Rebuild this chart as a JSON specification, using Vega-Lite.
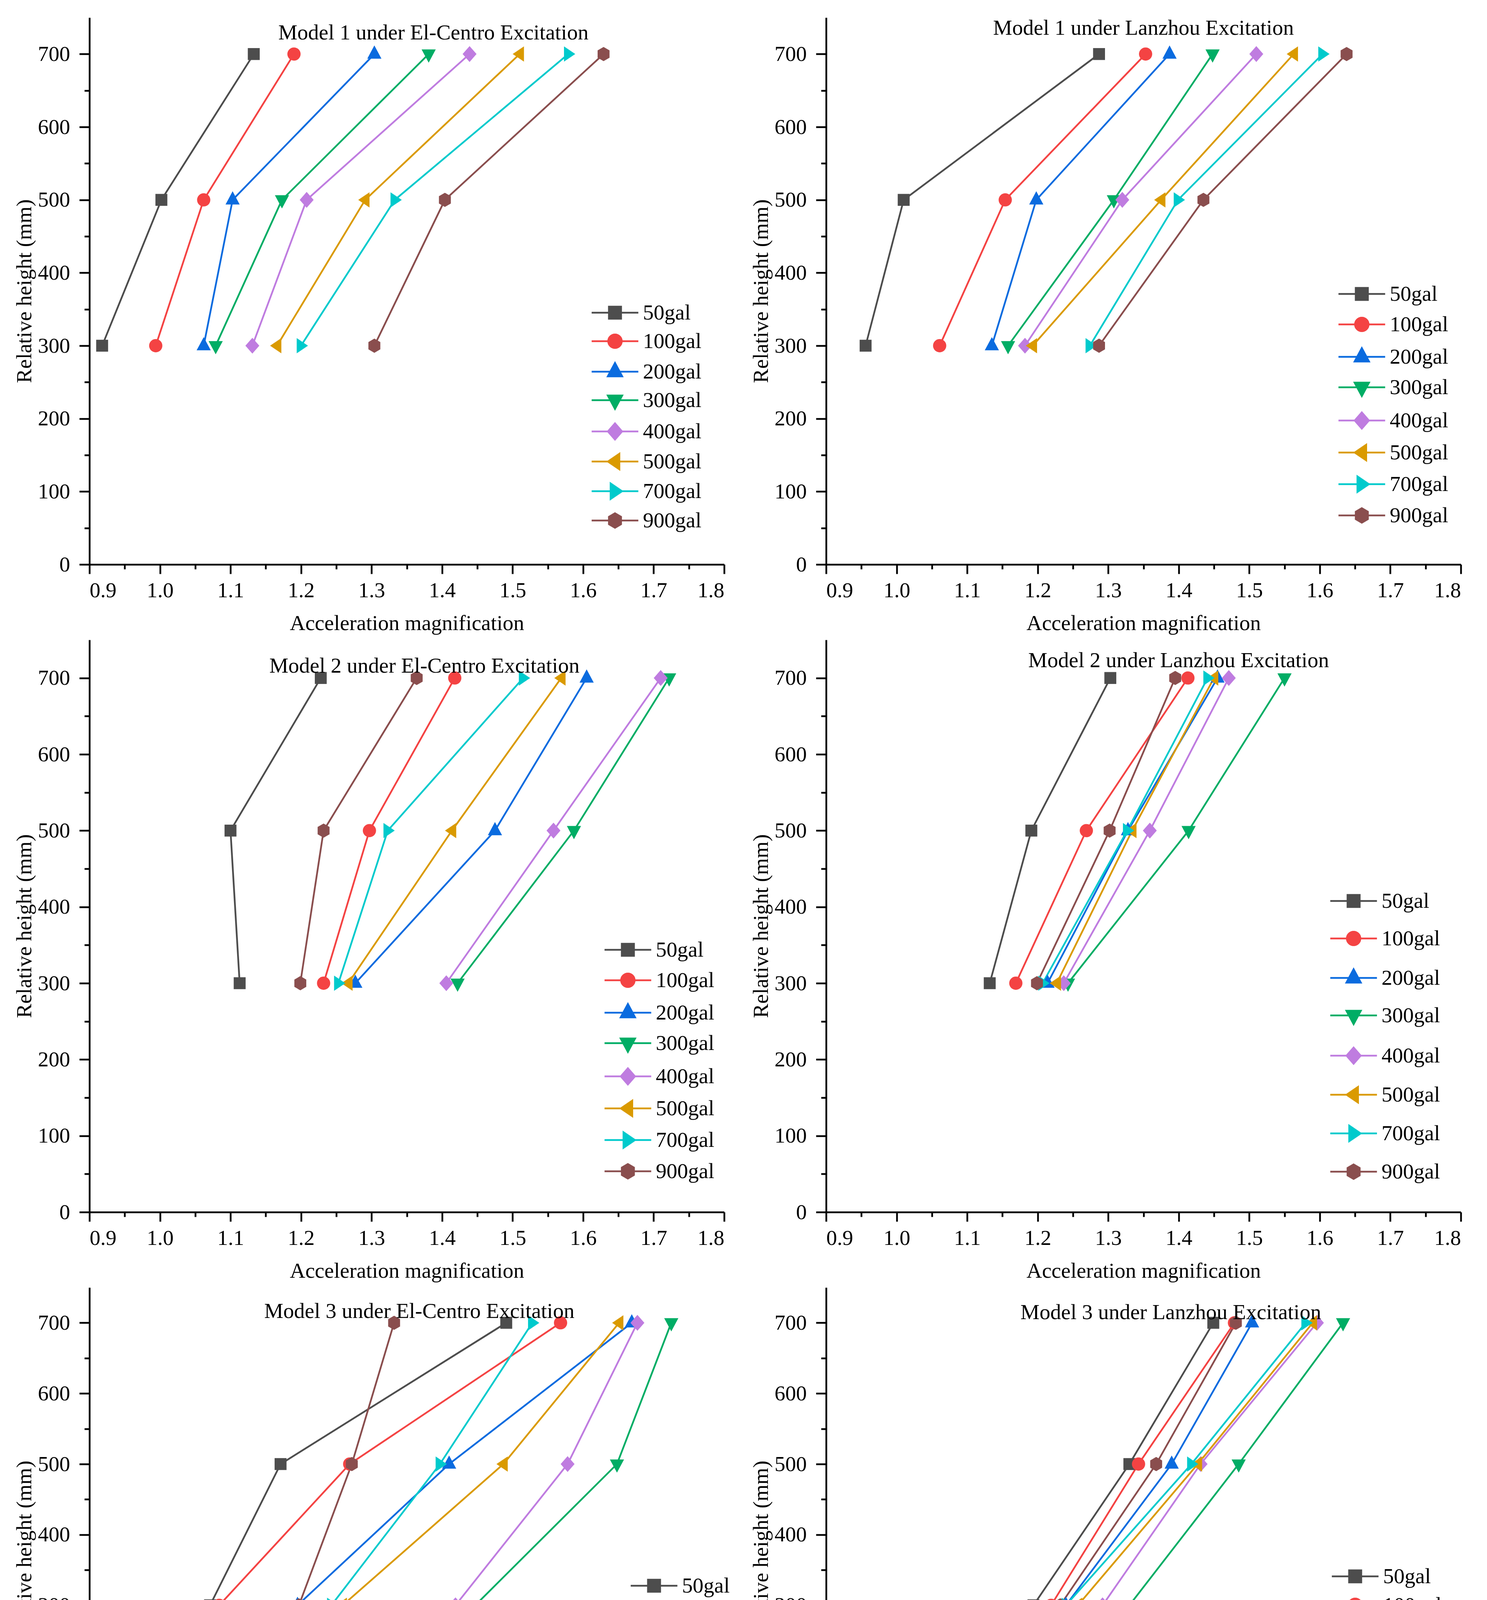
{
  "$schema": "https://vega.github.io/schema/vega-lite/v6.json",
  "padding": {"left": 35, "top": 45, "right": 5, "bottom": 5},
  "background": "white",
  "title": {"text": "(b) Distribution of HAM inside the slope", "orient": "bottom", "anchor": "middle", "frame": "bounds", "font": "Liberation Serif", "fontSize": 78, "fontWeight": "normal", "offset": 45, "color": "#000"},
  "data": {"values": [
    {"panel": "p1", "load": "50gal", "height": 300, "amp": 0.918}, {"panel": "p1", "load": "50gal", "height": 500, "amp": 1.002}, {"panel": "p1", "load": "50gal", "height": 700, "amp": 1.133},
    {"panel": "p1", "load": "100gal", "height": 300, "amp": 0.994}, {"panel": "p1", "load": "100gal", "height": 500, "amp": 1.062}, {"panel": "p1", "load": "100gal", "height": 700, "amp": 1.190},
    {"panel": "p1", "load": "200gal", "height": 300, "amp": 1.062}, {"panel": "p1", "load": "200gal", "height": 500, "amp": 1.103}, {"panel": "p1", "load": "200gal", "height": 700, "amp": 1.304},
    {"panel": "p1", "load": "300gal", "height": 300, "amp": 1.079}, {"panel": "p1", "load": "300gal", "height": 500, "amp": 1.173}, {"panel": "p1", "load": "300gal", "height": 700, "amp": 1.381},
    {"panel": "p1", "load": "400gal", "height": 300, "amp": 1.131}, {"panel": "p1", "load": "400gal", "height": 500, "amp": 1.208}, {"panel": "p1", "load": "400gal", "height": 700, "amp": 1.439},
    {"panel": "p1", "load": "500gal", "height": 300, "amp": 1.166}, {"panel": "p1", "load": "500gal", "height": 500, "amp": 1.291}, {"panel": "p1", "load": "500gal", "height": 700, "amp": 1.510},
    {"panel": "p1", "load": "700gal", "height": 300, "amp": 1.200}, {"panel": "p1", "load": "700gal", "height": 500, "amp": 1.333}, {"panel": "p1", "load": "700gal", "height": 700, "amp": 1.579},
    {"panel": "p1", "load": "900gal", "height": 300, "amp": 1.304}, {"panel": "p1", "load": "900gal", "height": 500, "amp": 1.404}, {"panel": "p1", "load": "900gal", "height": 700, "amp": 1.629},

    {"panel": "p2", "load": "50gal", "height": 300, "amp": 0.956}, {"panel": "p2", "load": "50gal", "height": 500, "amp": 1.010}, {"panel": "p2", "load": "50gal", "height": 700, "amp": 1.287},
    {"panel": "p2", "load": "100gal", "height": 300, "amp": 1.061}, {"panel": "p2", "load": "100gal", "height": 500, "amp": 1.154}, {"panel": "p2", "load": "100gal", "height": 700, "amp": 1.353},
    {"panel": "p2", "load": "200gal", "height": 300, "amp": 1.135}, {"panel": "p2", "load": "200gal", "height": 500, "amp": 1.198}, {"panel": "p2", "load": "200gal", "height": 700, "amp": 1.387},
    {"panel": "p2", "load": "300gal", "height": 300, "amp": 1.158}, {"panel": "p2", "load": "300gal", "height": 500, "amp": 1.308}, {"panel": "p2", "load": "300gal", "height": 700, "amp": 1.448},
    {"panel": "p2", "load": "400gal", "height": 300, "amp": 1.182}, {"panel": "p2", "load": "400gal", "height": 500, "amp": 1.320}, {"panel": "p2", "load": "400gal", "height": 700, "amp": 1.510},
    {"panel": "p2", "load": "500gal", "height": 300, "amp": 1.193}, {"panel": "p2", "load": "500gal", "height": 500, "amp": 1.375}, {"panel": "p2", "load": "500gal", "height": 700, "amp": 1.563},
    {"panel": "p2", "load": "700gal", "height": 300, "amp": 1.274}, {"panel": "p2", "load": "700gal", "height": 500, "amp": 1.399}, {"panel": "p2", "load": "700gal", "height": 700, "amp": 1.604},
    {"panel": "p2", "load": "900gal", "height": 300, "amp": 1.287}, {"panel": "p2", "load": "900gal", "height": 500, "amp": 1.435}, {"panel": "p2", "load": "900gal", "height": 700, "amp": 1.638},

    {"panel": "p3", "load": "50gal", "height": 300, "amp": 1.113}, {"panel": "p3", "load": "50gal", "height": 500, "amp": 1.100}, {"panel": "p3", "load": "50gal", "height": 700, "amp": 1.228},
    {"panel": "p3", "load": "100gal", "height": 300, "amp": 1.232}, {"panel": "p3", "load": "100gal", "height": 500, "amp": 1.297}, {"panel": "p3", "load": "100gal", "height": 700, "amp": 1.418},
    {"panel": "p3", "load": "200gal", "height": 300, "amp": 1.277}, {"panel": "p3", "load": "200gal", "height": 500, "amp": 1.475}, {"panel": "p3", "load": "200gal", "height": 700, "amp": 1.605},
    {"panel": "p3", "load": "300gal", "height": 300, "amp": 1.422}, {"panel": "p3", "load": "300gal", "height": 500, "amp": 1.587}, {"panel": "p3", "load": "300gal", "height": 700, "amp": 1.722},
    {"panel": "p3", "load": "400gal", "height": 300, "amp": 1.406}, {"panel": "p3", "load": "400gal", "height": 500, "amp": 1.558}, {"panel": "p3", "load": "400gal", "height": 700, "amp": 1.710},
    {"panel": "p3", "load": "500gal", "height": 300, "amp": 1.267}, {"panel": "p3", "load": "500gal", "height": 500, "amp": 1.414}, {"panel": "p3", "load": "500gal", "height": 700, "amp": 1.569},
    {"panel": "p3", "load": "700gal", "height": 300, "amp": 1.253}, {"panel": "p3", "load": "700gal", "height": 500, "amp": 1.323}, {"panel": "p3", "load": "700gal", "height": 700, "amp": 1.515},
    {"panel": "p3", "load": "900gal", "height": 300, "amp": 1.199}, {"panel": "p3", "load": "900gal", "height": 500, "amp": 1.232}, {"panel": "p3", "load": "900gal", "height": 700, "amp": 1.364},

    {"panel": "p4", "load": "50gal", "height": 300, "amp": 1.132}, {"panel": "p4", "load": "50gal", "height": 500, "amp": 1.191}, {"panel": "p4", "load": "50gal", "height": 700, "amp": 1.303},
    {"panel": "p4", "load": "100gal", "height": 300, "amp": 1.169}, {"panel": "p4", "load": "100gal", "height": 500, "amp": 1.269}, {"panel": "p4", "load": "100gal", "height": 700, "amp": 1.413},
    {"panel": "p4", "load": "200gal", "height": 300, "amp": 1.214}, {"panel": "p4", "load": "200gal", "height": 500, "amp": 1.328}, {"panel": "p4", "load": "200gal", "height": 700, "amp": 1.455},
    {"panel": "p4", "load": "300gal", "height": 300, "amp": 1.243}, {"panel": "p4", "load": "300gal", "height": 500, "amp": 1.414}, {"panel": "p4", "load": "300gal", "height": 700, "amp": 1.550},
    {"panel": "p4", "load": "400gal", "height": 300, "amp": 1.237}, {"panel": "p4", "load": "400gal", "height": 500, "amp": 1.359}, {"panel": "p4", "load": "400gal", "height": 700, "amp": 1.471},
    {"panel": "p4", "load": "500gal", "height": 300, "amp": 1.227}, {"panel": "p4", "load": "500gal", "height": 500, "amp": 1.334}, {"panel": "p4", "load": "500gal", "height": 700, "amp": 1.450},
    {"panel": "p4", "load": "700gal", "height": 300, "amp": 1.207}, {"panel": "p4", "load": "700gal", "height": 500, "amp": 1.327}, {"panel": "p4", "load": "700gal", "height": 700, "amp": 1.441},
    {"panel": "p4", "load": "900gal", "height": 300, "amp": 1.199}, {"panel": "p4", "load": "900gal", "height": 500, "amp": 1.302}, {"panel": "p4", "load": "900gal", "height": 700, "amp": 1.395},

    {"panel": "p5", "load": "50gal", "height": 300, "amp": 1.071}, {"panel": "p5", "load": "50gal", "height": 500, "amp": 1.171}, {"panel": "p5", "load": "50gal", "height": 700, "amp": 1.491},
    {"panel": "p5", "load": "100gal", "height": 300, "amp": 1.084}, {"panel": "p5", "load": "100gal", "height": 500, "amp": 1.269}, {"panel": "p5", "load": "100gal", "height": 700, "amp": 1.568},
    {"panel": "p5", "load": "200gal", "height": 300, "amp": 1.195}, {"panel": "p5", "load": "200gal", "height": 500, "amp": 1.410}, {"panel": "p5", "load": "200gal", "height": 700, "amp": 1.669},
    {"panel": "p5", "load": "300gal", "height": 300, "amp": 1.447}, {"panel": "p5", "load": "300gal", "height": 500, "amp": 1.648}, {"panel": "p5", "load": "300gal", "height": 700, "amp": 1.725},
    {"panel": "p5", "load": "400gal", "height": 300, "amp": 1.419}, {"panel": "p5", "load": "400gal", "height": 500, "amp": 1.578}, {"panel": "p5", "load": "400gal", "height": 700, "amp": 1.677},
    {"panel": "p5", "load": "500gal", "height": 300, "amp": 1.259}, {"panel": "p5", "load": "500gal", "height": 500, "amp": 1.487}, {"panel": "p5", "load": "500gal", "height": 700, "amp": 1.651},
    {"panel": "p5", "load": "700gal", "height": 300, "amp": 1.243}, {"panel": "p5", "load": "700gal", "height": 500, "amp": 1.397}, {"panel": "p5", "load": "700gal", "height": 700, "amp": 1.528},
    {"panel": "p5", "load": "900gal", "height": 300, "amp": 1.197}, {"panel": "p5", "load": "900gal", "height": 500, "amp": 1.272}, {"panel": "p5", "load": "900gal", "height": 700, "amp": 1.332},

    {"panel": "p6", "load": "50gal", "height": 300, "amp": 1.194}, {"panel": "p6", "load": "50gal", "height": 500, "amp": 1.330}, {"panel": "p6", "load": "50gal", "height": 700, "amp": 1.449},
    {"panel": "p6", "load": "100gal", "height": 300, "amp": 1.219}, {"panel": "p6", "load": "100gal", "height": 500, "amp": 1.343}, {"panel": "p6", "load": "100gal", "height": 700, "amp": 1.479},
    {"panel": "p6", "load": "200gal", "height": 300, "amp": 1.240}, {"panel": "p6", "load": "200gal", "height": 500, "amp": 1.390}, {"panel": "p6", "load": "200gal", "height": 700, "amp": 1.504},
    {"panel": "p6", "load": "300gal", "height": 300, "amp": 1.330}, {"panel": "p6", "load": "300gal", "height": 500, "amp": 1.485}, {"panel": "p6", "load": "300gal", "height": 700, "amp": 1.633},
    {"panel": "p6", "load": "400gal", "height": 300, "amp": 1.292}, {"panel": "p6", "load": "400gal", "height": 500, "amp": 1.431}, {"panel": "p6", "load": "400gal", "height": 700, "amp": 1.596},
    {"panel": "p6", "load": "500gal", "height": 300, "amp": 1.257}, {"panel": "p6", "load": "500gal", "height": 500, "amp": 1.427}, {"panel": "p6", "load": "500gal", "height": 700, "amp": 1.590},
    {"panel": "p6", "load": "700gal", "height": 300, "amp": 1.240}, {"panel": "p6", "load": "700gal", "height": 500, "amp": 1.418}, {"panel": "p6", "load": "700gal", "height": 700, "amp": 1.580},
    {"panel": "p6", "load": "900gal", "height": 300, "amp": 1.232}, {"panel": "p6", "load": "900gal", "height": 500, "amp": 1.368}, {"panel": "p6", "load": "900gal", "height": 700, "amp": 1.481}
  ]},
  "columns": 2,
  "spacing": {"row": 15, "column": 25},
  "resolve": {"scale": {"color": "independent", "shape": "independent"}, "legend": {"color": "independent", "shape": "independent"}},
  "concat": [
    {
      "width": 1625, "height": 1400,
      "title": {"text": "Model 1 under El-Centro Excitation", "dx": 68, "offset": -68},
      "transform": [{"filter": "datum.panel == 'p1'"}],
      "encoding": {
        "x": {"field": "amp", "type": "quantitative", "scale": {"domain": [0.9, 1.8], "nice": false, "zero": false},
          "axis": {"title": "Acceleration magnification", "values": [0.9, 0.95, 1.0, 1.05, 1.1, 1.15, 1.2, 1.25, 1.3, 1.35, 1.4, 1.45, 1.5, 1.55, 1.6, 1.65, 1.7, 1.75, 1.8],
            "labelExpr": "round(datum.value * 100) % 10 === 0 ? format(datum.value, '.1f') : ''",
            "tickSize": {"condition": {"test": "round(datum.value * 100) % 10 === 0", "value": 24}, "value": 12}}},
        "y": {"field": "height", "type": "quantitative", "scale": {"domain": [0, 750], "nice": false},
          "axis": {"title": "Relative height (mm)", "values": [0, 50, 100, 150, 200, 250, 300, 350, 400, 450, 500, 550, 600, 650, 700],
            "labelExpr": "datum.value % 100 === 0 ? datum.label : ''",
            "tickSize": {"condition": {"test": "datum.value % 100 === 0", "value": 26}, "value": 13}}},
        "color": {"field": "load", "type": "nominal",
          "scale": {"domain": ["50gal", "100gal", "200gal", "300gal", "400gal", "500gal", "700gal", "900gal"], "range": ["#4d4d4d", "#f44343", "#0a6bdf", "#00ad65", "#bf7ce0", "#da9a00", "#00cacc", "#8a4e4e"]},
          "legend": {"orient": "none", "legendX": 1318, "legendY": 728, "rowPadding": 17, "symbolStrokeWidth": 4.5}},
        "order": {"field": "height", "type": "quantitative"}
      },
      "layer": [
        {"mark": {"type": "line", "strokeWidth": 4.5}},
        {"mark": {"type": "point", "filled": true, "size": 1150, "opacity": 1, "strokeWidth": 4.5},
          "encoding": {"shape": {"condition": [
            {"test": "datum.load === '50gal'", "value": "M-0.9,-0.9H0.9V0.9H-0.9Z"},
            {"test": "datum.load === '100gal'", "value": "M1,0A1,1,0,1,1,-1,0A1,1,0,1,1,1,0Z"},
            {"test": "datum.load === '200gal'", "value": "M0,-1.3L-1.07,0.7L1.07,0.7Z"},
            {"test": "datum.load === '300gal'", "value": "M0,1.3L-1.07,-0.7L1.07,-0.7Z"},
            {"test": "datum.load === '400gal'", "value": "M-1.05,0L0,-1.2L1.05,0L0,1.2Z"},
            {"test": "datum.load === '500gal'", "value": "M-1.05,0L0.65,-1.15L0.65,1.15Z"},
            {"test": "datum.load === '700gal'", "value": "M1.05,0L-0.65,-1.15L-0.65,1.15Z"}],
            "value": "M0,-1.07L0.9,-0.55L0.9,0.55L0,1.07L-0.9,0.55L-0.9,-0.55Z"}}},
        {"transform": [{"filter": "false"}],
          "mark": {"type": "point", "filled": true, "size": 1150, "opacity": 1, "strokeWidth": 4.5},
          "encoding": {"shape": {"field": "load", "type": "nominal", "scale": {"domain": ["50gal", "100gal", "200gal", "300gal", "400gal", "500gal", "700gal", "900gal"],
            "range": ["M-3.45,0H3.45M-0.9,-0.9H0.9V0.9H-0.9Z", "M-3.45,0H3.45M1,0A1,1,0,1,1,-1,0A1,1,0,1,1,1,0Z", "M-3.45,0H3.45M0,-1.3L-1.07,0.7L1.07,0.7Z", "M-3.45,0H3.45M0,1.3L-1.07,-0.7L1.07,-0.7Z", "M-3.45,0H3.45M-1.05,0L0,-1.2L1.05,0L0,1.2Z", "M-3.45,0H3.45M-1.05,0L0.65,-1.15L0.65,1.15Z", "M-3.45,0H3.45M1.05,0L-0.65,-1.15L-0.65,1.15Z", "M-3.45,0H3.45M0,-1.07L0.9,-0.55L0.9,0.55L0,1.07L-0.9,0.55L-0.9,-0.55Z"]}}}}
      ]
    },
    {
      "width": 1625, "height": 1400,
      "title": {"text": "Model 1 under Lanzhou Excitation", "dx": 0, "offset": -56},
      "transform": [{"filter": "datum.panel == 'p2'"}],
      "encoding": {
        "x": {"field": "amp", "type": "quantitative", "scale": {"domain": [0.9, 1.8], "nice": false, "zero": false},
          "axis": {"title": "Acceleration magnification", "values": [0.9, 0.95, 1.0, 1.05, 1.1, 1.15, 1.2, 1.25, 1.3, 1.35, 1.4, 1.45, 1.5, 1.55, 1.6, 1.65, 1.7, 1.75, 1.8],
            "labelExpr": "round(datum.value * 100) % 10 === 0 ? format(datum.value, '.1f') : ''",
            "tickSize": {"condition": {"test": "round(datum.value * 100) % 10 === 0", "value": 24}, "value": 12}}},
        "y": {"field": "height", "type": "quantitative", "scale": {"domain": [0, 750], "nice": false},
          "axis": {"title": "Relative height (mm)", "values": [0, 50, 100, 150, 200, 250, 300, 350, 400, 450, 500, 550, 600, 650, 700],
            "labelExpr": "datum.value % 100 === 0 ? datum.label : ''",
            "tickSize": {"condition": {"test": "datum.value % 100 === 0", "value": 26}, "value": 13}}},
        "color": {"field": "load", "type": "nominal",
          "scale": {"domain": ["50gal", "100gal", "200gal", "300gal", "400gal", "500gal", "700gal", "900gal"], "range": ["#4d4d4d", "#f44343", "#0a6bdf", "#00ad65", "#bf7ce0", "#da9a00", "#00cacc", "#8a4e4e"]},
          "legend": {"orient": "none", "legendX": 1344, "legendY": 680, "rowPadding": 22, "symbolStrokeWidth": 4.5}},
        "order": {"field": "height", "type": "quantitative"}
      },
      "layer": [
        {"mark": {"type": "line", "strokeWidth": 4.5}},
        {"mark": {"type": "point", "filled": true, "size": 1150, "opacity": 1, "strokeWidth": 4.5},
          "encoding": {"shape": {"condition": [
            {"test": "datum.load === '50gal'", "value": "M-0.9,-0.9H0.9V0.9H-0.9Z"},
            {"test": "datum.load === '100gal'", "value": "M1,0A1,1,0,1,1,-1,0A1,1,0,1,1,1,0Z"},
            {"test": "datum.load === '200gal'", "value": "M0,-1.3L-1.07,0.7L1.07,0.7Z"},
            {"test": "datum.load === '300gal'", "value": "M0,1.3L-1.07,-0.7L1.07,-0.7Z"},
            {"test": "datum.load === '400gal'", "value": "M-1.05,0L0,-1.2L1.05,0L0,1.2Z"},
            {"test": "datum.load === '500gal'", "value": "M-1.05,0L0.65,-1.15L0.65,1.15Z"},
            {"test": "datum.load === '700gal'", "value": "M1.05,0L-0.65,-1.15L-0.65,1.15Z"}],
            "value": "M0,-1.07L0.9,-0.55L0.9,0.55L0,1.07L-0.9,0.55L-0.9,-0.55Z"}}},
        {"transform": [{"filter": "false"}],
          "mark": {"type": "point", "filled": true, "size": 1150, "opacity": 1, "strokeWidth": 4.5},
          "encoding": {"shape": {"field": "load", "type": "nominal", "scale": {"domain": ["50gal", "100gal", "200gal", "300gal", "400gal", "500gal", "700gal", "900gal"],
            "range": ["M-3.45,0H3.45M-0.9,-0.9H0.9V0.9H-0.9Z", "M-3.45,0H3.45M1,0A1,1,0,1,1,-1,0A1,1,0,1,1,1,0Z", "M-3.45,0H3.45M0,-1.3L-1.07,0.7L1.07,0.7Z", "M-3.45,0H3.45M0,1.3L-1.07,-0.7L1.07,-0.7Z", "M-3.45,0H3.45M-1.05,0L0,-1.2L1.05,0L0,1.2Z", "M-3.45,0H3.45M-1.05,0L0.65,-1.15L0.65,1.15Z", "M-3.45,0H3.45M1.05,0L-0.65,-1.15L-0.65,1.15Z", "M-3.45,0H3.45M0,-1.07L0.9,-0.55L0.9,0.55L0,1.07L-0.9,0.55L-0.9,-0.55Z"]}}}}
      ]
    },
    {
      "width": 1625, "height": 1465,
      "title": {"text": "Model 2 under El-Centro Excitation", "dx": 45, "offset": -96},
      "transform": [{"filter": "datum.panel == 'p3'"}],
      "encoding": {
        "x": {"field": "amp", "type": "quantitative", "scale": {"domain": [0.9, 1.8], "nice": false, "zero": false},
          "axis": {"title": "Acceleration magnification", "values": [0.9, 0.95, 1.0, 1.05, 1.1, 1.15, 1.2, 1.25, 1.3, 1.35, 1.4, 1.45, 1.5, 1.55, 1.6, 1.65, 1.7, 1.75, 1.8],
            "labelExpr": "round(datum.value * 100) % 10 === 0 ? format(datum.value, '.1f') : ''",
            "tickSize": {"condition": {"test": "round(datum.value * 100) % 10 === 0", "value": 24}, "value": 12}}},
        "y": {"field": "height", "type": "quantitative", "scale": {"domain": [0, 750], "nice": false},
          "axis": {"title": "Relative height (mm)", "values": [0, 50, 100, 150, 200, 250, 300, 350, 400, 450, 500, 550, 600, 650, 700],
            "labelExpr": "datum.value % 100 === 0 ? datum.label : ''",
            "tickSize": {"condition": {"test": "datum.value % 100 === 0", "value": 26}, "value": 13}}},
        "color": {"field": "load", "type": "nominal",
          "scale": {"domain": ["50gal", "100gal", "200gal", "300gal", "400gal", "500gal", "700gal", "900gal"], "range": ["#4d4d4d", "#f44343", "#0a6bdf", "#00ad65", "#bf7ce0", "#da9a00", "#00cacc", "#8a4e4e"]},
          "legend": {"orient": "none", "legendX": 1351, "legendY": 766, "rowPadding": 22, "symbolStrokeWidth": 4.5}},
        "order": {"field": "height", "type": "quantitative"}
      },
      "layer": [
        {"mark": {"type": "line", "strokeWidth": 4.5}},
        {"mark": {"type": "point", "filled": true, "size": 1150, "opacity": 1, "strokeWidth": 4.5},
          "encoding": {"shape": {"condition": [
            {"test": "datum.load === '50gal'", "value": "M-0.9,-0.9H0.9V0.9H-0.9Z"},
            {"test": "datum.load === '100gal'", "value": "M1,0A1,1,0,1,1,-1,0A1,1,0,1,1,1,0Z"},
            {"test": "datum.load === '200gal'", "value": "M0,-1.3L-1.07,0.7L1.07,0.7Z"},
            {"test": "datum.load === '300gal'", "value": "M0,1.3L-1.07,-0.7L1.07,-0.7Z"},
            {"test": "datum.load === '400gal'", "value": "M-1.05,0L0,-1.2L1.05,0L0,1.2Z"},
            {"test": "datum.load === '500gal'", "value": "M-1.05,0L0.65,-1.15L0.65,1.15Z"},
            {"test": "datum.load === '700gal'", "value": "M1.05,0L-0.65,-1.15L-0.65,1.15Z"}],
            "value": "M0,-1.07L0.9,-0.55L0.9,0.55L0,1.07L-0.9,0.55L-0.9,-0.55Z"}}},
        {"transform": [{"filter": "false"}],
          "mark": {"type": "point", "filled": true, "size": 1150, "opacity": 1, "strokeWidth": 4.5},
          "encoding": {"shape": {"field": "load", "type": "nominal", "scale": {"domain": ["50gal", "100gal", "200gal", "300gal", "400gal", "500gal", "700gal", "900gal"],
            "range": ["M-3.45,0H3.45M-0.9,-0.9H0.9V0.9H-0.9Z", "M-3.45,0H3.45M1,0A1,1,0,1,1,-1,0A1,1,0,1,1,1,0Z", "M-3.45,0H3.45M0,-1.3L-1.07,0.7L1.07,0.7Z", "M-3.45,0H3.45M0,1.3L-1.07,-0.7L1.07,-0.7Z", "M-3.45,0H3.45M-1.05,0L0,-1.2L1.05,0L0,1.2Z", "M-3.45,0H3.45M-1.05,0L0.65,-1.15L0.65,1.15Z", "M-3.45,0H3.45M1.05,0L-0.65,-1.15L-0.65,1.15Z", "M-3.45,0H3.45M0,-1.07L0.9,-0.55L0.9,0.55L0,1.07L-0.9,0.55L-0.9,-0.55Z"]}}}}
      ]
    },
    {
      "width": 1625, "height": 1465,
      "title": {"text": "Model 2 under Lanzhou Excitation", "dx": 90, "offset": -82},
      "transform": [{"filter": "datum.panel == 'p4'"}],
      "encoding": {
        "x": {"field": "amp", "type": "quantitative", "scale": {"domain": [0.9, 1.8], "nice": false, "zero": false},
          "axis": {"title": "Acceleration magnification", "values": [0.9, 0.95, 1.0, 1.05, 1.1, 1.15, 1.2, 1.25, 1.3, 1.35, 1.4, 1.45, 1.5, 1.55, 1.6, 1.65, 1.7, 1.75, 1.8],
            "labelExpr": "round(datum.value * 100) % 10 === 0 ? format(datum.value, '.1f') : ''",
            "tickSize": {"condition": {"test": "round(datum.value * 100) % 10 === 0", "value": 24}, "value": 12}}},
        "y": {"field": "height", "type": "quantitative", "scale": {"domain": [0, 750], "nice": false},
          "axis": {"title": "Relative height (mm)", "values": [0, 50, 100, 150, 200, 250, 300, 350, 400, 450, 500, 550, 600, 650, 700],
            "labelExpr": "datum.value % 100 === 0 ? datum.label : ''",
            "tickSize": {"condition": {"test": "datum.value % 100 === 0", "value": 26}, "value": 13}}},
        "color": {"field": "load", "type": "nominal",
          "scale": {"domain": ["50gal", "100gal", "200gal", "300gal", "400gal", "500gal", "700gal", "900gal"], "range": ["#4d4d4d", "#f44343", "#0a6bdf", "#00ad65", "#bf7ce0", "#da9a00", "#00cacc", "#8a4e4e"]},
          "legend": {"orient": "none", "legendX": 1323, "legendY": 641, "rowPadding": 40, "symbolStrokeWidth": 4.5}},
        "order": {"field": "height", "type": "quantitative"}
      },
      "layer": [
        {"mark": {"type": "line", "strokeWidth": 4.5}},
        {"mark": {"type": "point", "filled": true, "size": 1150, "opacity": 1, "strokeWidth": 4.5},
          "encoding": {"shape": {"condition": [
            {"test": "datum.load === '50gal'", "value": "M-0.9,-0.9H0.9V0.9H-0.9Z"},
            {"test": "datum.load === '100gal'", "value": "M1,0A1,1,0,1,1,-1,0A1,1,0,1,1,1,0Z"},
            {"test": "datum.load === '200gal'", "value": "M0,-1.3L-1.07,0.7L1.07,0.7Z"},
            {"test": "datum.load === '300gal'", "value": "M0,1.3L-1.07,-0.7L1.07,-0.7Z"},
            {"test": "datum.load === '400gal'", "value": "M-1.05,0L0,-1.2L1.05,0L0,1.2Z"},
            {"test": "datum.load === '500gal'", "value": "M-1.05,0L0.65,-1.15L0.65,1.15Z"},
            {"test": "datum.load === '700gal'", "value": "M1.05,0L-0.65,-1.15L-0.65,1.15Z"}],
            "value": "M0,-1.07L0.9,-0.55L0.9,0.55L0,1.07L-0.9,0.55L-0.9,-0.55Z"}}},
        {"transform": [{"filter": "false"}],
          "mark": {"type": "point", "filled": true, "size": 1150, "opacity": 1, "strokeWidth": 4.5},
          "encoding": {"shape": {"field": "load", "type": "nominal", "scale": {"domain": ["50gal", "100gal", "200gal", "300gal", "400gal", "500gal", "700gal", "900gal"],
            "range": ["M-3.45,0H3.45M-0.9,-0.9H0.9V0.9H-0.9Z", "M-3.45,0H3.45M1,0A1,1,0,1,1,-1,0A1,1,0,1,1,1,0Z", "M-3.45,0H3.45M0,-1.3L-1.07,0.7L1.07,0.7Z", "M-3.45,0H3.45M0,1.3L-1.07,-0.7L1.07,-0.7Z", "M-3.45,0H3.45M-1.05,0L0,-1.2L1.05,0L0,1.2Z", "M-3.45,0H3.45M-1.05,0L0.65,-1.15L0.65,1.15Z", "M-3.45,0H3.45M1.05,0L-0.65,-1.15L-0.65,1.15Z", "M-3.45,0H3.45M0,-1.07L0.9,-0.55L0.9,0.55L0,1.07L-0.9,0.55L-0.9,-0.55Z"]}}}}
      ]
    },
    {
      "width": 1625, "height": 1356,
      "title": {"text": "Model 3 under El-Centro Excitation", "dx": 32, "offset": -90},
      "transform": [{"filter": "datum.panel == 'p5'"}],
      "encoding": {
        "x": {"field": "amp", "type": "quantitative", "scale": {"domain": [0.9, 1.8], "nice": false, "zero": false},
          "axis": {"title": "Acceleration magnification", "values": [0.9, 0.95, 1.0, 1.05, 1.1, 1.15, 1.2, 1.25, 1.3, 1.35, 1.4, 1.45, 1.5, 1.55, 1.6, 1.65, 1.7, 1.75, 1.8],
            "labelExpr": "round(datum.value * 100) % 10 === 0 ? format(datum.value, '.1f') : ''",
            "tickSize": {"condition": {"test": "round(datum.value * 100) % 10 === 0", "value": 24}, "value": 12}}},
        "y": {"field": "height", "type": "quantitative", "scale": {"domain": [0, 750], "nice": false},
          "axis": {"title": "Relative height (mm)", "values": [0, 50, 100, 150, 200, 250, 300, 350, 400, 450, 500, 550, 600, 650, 700],
            "labelExpr": "datum.value % 100 === 0 ? datum.label : ''",
            "tickSize": {"condition": {"test": "datum.value % 100 === 0", "value": 26}, "value": 13}}},
        "color": {"field": "load", "type": "nominal",
          "scale": {"domain": ["50gal", "100gal", "200gal", "300gal", "400gal", "500gal", "700gal", "900gal"], "range": ["#4d4d4d", "#f44343", "#0a6bdf", "#00ad65", "#bf7ce0", "#da9a00", "#00cacc", "#8a4e4e"]},
          "legend": {"orient": "none", "legendX": 1418, "legendY": 736, "rowPadding": 15, "symbolStrokeWidth": 4.5}},
        "order": {"field": "height", "type": "quantitative"}
      },
      "layer": [
        {"mark": {"type": "line", "strokeWidth": 4.5}},
        {"mark": {"type": "point", "filled": true, "size": 1150, "opacity": 1, "strokeWidth": 4.5},
          "encoding": {"shape": {"condition": [
            {"test": "datum.load === '50gal'", "value": "M-0.9,-0.9H0.9V0.9H-0.9Z"},
            {"test": "datum.load === '100gal'", "value": "M1,0A1,1,0,1,1,-1,0A1,1,0,1,1,1,0Z"},
            {"test": "datum.load === '200gal'", "value": "M0,-1.3L-1.07,0.7L1.07,0.7Z"},
            {"test": "datum.load === '300gal'", "value": "M0,1.3L-1.07,-0.7L1.07,-0.7Z"},
            {"test": "datum.load === '400gal'", "value": "M-1.05,0L0,-1.2L1.05,0L0,1.2Z"},
            {"test": "datum.load === '500gal'", "value": "M-1.05,0L0.65,-1.15L0.65,1.15Z"},
            {"test": "datum.load === '700gal'", "value": "M1.05,0L-0.65,-1.15L-0.65,1.15Z"}],
            "value": "M0,-1.07L0.9,-0.55L0.9,0.55L0,1.07L-0.9,0.55L-0.9,-0.55Z"}}},
        {"transform": [{"filter": "false"}],
          "mark": {"type": "point", "filled": true, "size": 1150, "opacity": 1, "strokeWidth": 4.5},
          "encoding": {"shape": {"field": "load", "type": "nominal", "scale": {"domain": ["50gal", "100gal", "200gal", "300gal", "400gal", "500gal", "700gal", "900gal"],
            "range": ["M-3.45,0H3.45M-0.9,-0.9H0.9V0.9H-0.9Z", "M-3.45,0H3.45M1,0A1,1,0,1,1,-1,0A1,1,0,1,1,1,0Z", "M-3.45,0H3.45M0,-1.3L-1.07,0.7L1.07,0.7Z", "M-3.45,0H3.45M0,1.3L-1.07,-0.7L1.07,-0.7Z", "M-3.45,0H3.45M-1.05,0L0,-1.2L1.05,0L0,1.2Z", "M-3.45,0H3.45M-1.05,0L0.65,-1.15L0.65,1.15Z", "M-3.45,0H3.45M1.05,0L-0.65,-1.15L-0.65,1.15Z", "M-3.45,0H3.45M0,-1.07L0.9,-0.55L0.9,0.55L0,1.07L-0.9,0.55L-0.9,-0.55Z"]}}}}
      ]
    },
    {
      "width": 1625, "height": 1356,
      "title": {"text": "Model 3 under Lanzhou Excitation", "dx": 70, "offset": -93},
      "transform": [{"filter": "datum.panel == 'p6'"}],
      "encoding": {
        "x": {"field": "amp", "type": "quantitative", "scale": {"domain": [0.9, 1.8], "nice": false, "zero": false},
          "axis": {"title": "Acceleration magnification", "values": [0.9, 0.95, 1.0, 1.05, 1.1, 1.15, 1.2, 1.25, 1.3, 1.35, 1.4, 1.45, 1.5, 1.55, 1.6, 1.65, 1.7, 1.75, 1.8],
            "labelExpr": "round(datum.value * 100) % 10 === 0 ? format(datum.value, '.1f') : ''",
            "tickSize": {"condition": {"test": "round(datum.value * 100) % 10 === 0", "value": 24}, "value": 12}}},
        "y": {"field": "height", "type": "quantitative", "scale": {"domain": [0, 750], "nice": false},
          "axis": {"title": "Relative height (mm)", "values": [0, 50, 100, 150, 200, 250, 300, 350, 400, 450, 500, 550, 600, 650, 700],
            "labelExpr": "datum.value % 100 === 0 ? datum.label : ''",
            "tickSize": {"condition": {"test": "datum.value % 100 === 0", "value": 26}, "value": 13}}},
        "color": {"field": "load", "type": "nominal",
          "scale": {"domain": ["50gal", "100gal", "200gal", "300gal", "400gal", "500gal", "700gal", "900gal"], "range": ["#4d4d4d", "#f44343", "#0a6bdf", "#00ad65", "#bf7ce0", "#da9a00", "#00cacc", "#8a4e4e"]},
          "legend": {"orient": "none", "legendX": 1327, "legendY": 712, "rowPadding": 18, "symbolStrokeWidth": 4.5}},
        "order": {"field": "height", "type": "quantitative"}
      },
      "layer": [
        {"mark": {"type": "line", "strokeWidth": 4.5}},
        {"mark": {"type": "point", "filled": true, "size": 1150, "opacity": 1, "strokeWidth": 4.5},
          "encoding": {"shape": {"condition": [
            {"test": "datum.load === '50gal'", "value": "M-0.9,-0.9H0.9V0.9H-0.9Z"},
            {"test": "datum.load === '100gal'", "value": "M1,0A1,1,0,1,1,-1,0A1,1,0,1,1,1,0Z"},
            {"test": "datum.load === '200gal'", "value": "M0,-1.3L-1.07,0.7L1.07,0.7Z"},
            {"test": "datum.load === '300gal'", "value": "M0,1.3L-1.07,-0.7L1.07,-0.7Z"},
            {"test": "datum.load === '400gal'", "value": "M-1.05,0L0,-1.2L1.05,0L0,1.2Z"},
            {"test": "datum.load === '500gal'", "value": "M-1.05,0L0.65,-1.15L0.65,1.15Z"},
            {"test": "datum.load === '700gal'", "value": "M1.05,0L-0.65,-1.15L-0.65,1.15Z"}],
            "value": "M0,-1.07L0.9,-0.55L0.9,0.55L0,1.07L-0.9,0.55L-0.9,-0.55Z"}}},
        {"transform": [{"filter": "false"}],
          "mark": {"type": "point", "filled": true, "size": 1150, "opacity": 1, "strokeWidth": 4.5},
          "encoding": {"shape": {"field": "load", "type": "nominal", "scale": {"domain": ["50gal", "100gal", "200gal", "300gal", "400gal", "500gal", "700gal", "900gal"],
            "range": ["M-3.45,0H3.45M-0.9,-0.9H0.9V0.9H-0.9Z", "M-3.45,0H3.45M1,0A1,1,0,1,1,-1,0A1,1,0,1,1,1,0Z", "M-3.45,0H3.45M0,-1.3L-1.07,0.7L1.07,0.7Z", "M-3.45,0H3.45M0,1.3L-1.07,-0.7L1.07,-0.7Z", "M-3.45,0H3.45M-1.05,0L0,-1.2L1.05,0L0,1.2Z", "M-3.45,0H3.45M-1.05,0L0.65,-1.15L0.65,1.15Z", "M-3.45,0H3.45M1.05,0L-0.65,-1.15L-0.65,1.15Z", "M-3.45,0H3.45M0,-1.07L0.9,-0.55L0.9,0.55L0,1.07L-0.9,0.55L-0.9,-0.55Z"]}}}}
      ]
    }
  ],
  "config": {
    "view": {"stroke": null},
    "font": "Liberation Serif",
    "title": {"font": "Liberation Serif", "fontSize": 55, "fontWeight": "normal", "color": "#000", "anchor": "middle", "frame": "group", "baseline": "middle"},
    "axis": {"grid": false, "domainColor": "#000", "domainWidth": 4.5, "tickColor": "#000", "tickWidth": 4.5,
      "labelFont": "Liberation Serif", "labelFontSize": 55, "labelColor": "#000", "labelPadding": 16,
      "titleFont": "Liberation Serif", "titleFontSize": 55, "titleFontWeight": "normal", "titleColor": "#000"},
    "axisX": {"titleY": 150, "titleBaseline": "middle"},
    "axisY": {"titleX": -167, "titleBaseline": "middle", "labelPadding": 24},
    "legend": {"title": null, "padding": 0, "symbolSize": 1200, "symbolOpacity": 1, "labelFont": "Liberation Serif", "labelFontSize": 55, "labelColor": "#000", "labelOffset": 44, "labelLimit": 400, "symbolStrokeWidth": 4.5}
  }
}
